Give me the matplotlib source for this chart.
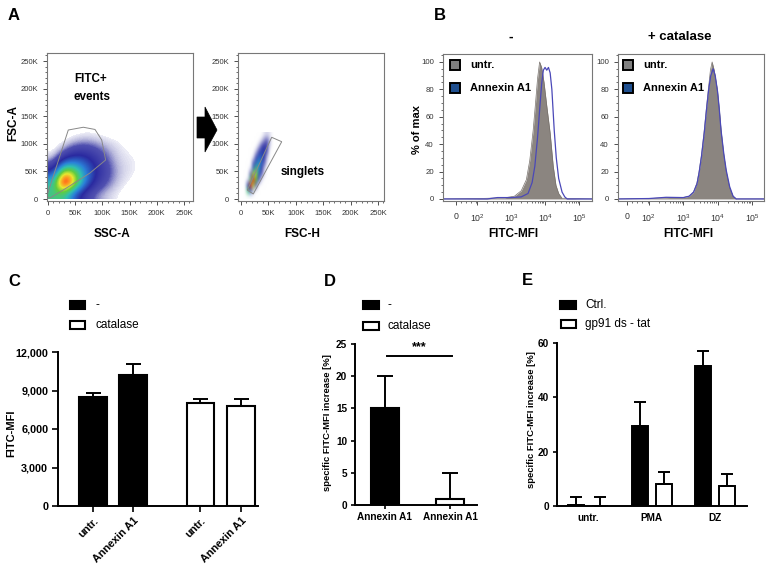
import numpy as np
import matplotlib
matplotlib.use("Agg")
import matplotlib.pyplot as plt
from matplotlib.colors import LinearSegmentedColormap
from matplotlib.patches import Rectangle, Polygon
from matplotlib.ticker import FixedLocator, MultipleLocator, FuncFormatter

plt.rcParams['font.family'] = ['Liberation Sans', 'DejaVu Sans']
plt.rcParams['mathtext.fontset'] = 'custom'
plt.rcParams['mathtext.rm'] = 'Liberation Sans'
plt.rcParams['mathtext.it'] = 'Liberation Sans:italic'
plt.rcParams['mathtext.bf'] = 'Liberation Sans:bold'

# ---------------------------------------------------------------- data
# Panel A (left): relative event density, rows = FSC-A 20K bins (0-140K), cols = SSC-A 20K bins (0-260K)
fitc_density = [
    [4.5, 4.5, 2.5, 1.3, 0.7, 0.4, 0.2, 0.1, 0.1, 0.1, 0.0, 0.0, 0.0],
    [4.0, 9.0, 6.0, 3.0, 1.6, 0.9, 0.4, 0.2, 0.15, 0.1, 0.1, 0.0, 0.0],
    [2.0, 6.0, 5.0, 3.2, 2.0, 1.1, 0.5, 0.3, 0.2, 0.15, 0.1, 0.1, 0.0],
    [0.5, 2.2, 2.8, 2.4, 1.6, 0.9, 0.4, 0.3, 0.2, 0.15, 0.1, 0.1, 0.0],
    [0.1, 0.6, 1.2, 1.3, 1.0, 0.6, 0.3, 0.2, 0.15, 0.1, 0.1, 0.0, 0.0],
    [0.0, 0.1, 0.3, 0.4, 0.3, 0.2, 0.2, 0.15, 0.1, 0.1, 0.0, 0.0, 0.0],
    [0.0, 0.0, 0.0, 0.1, 0.1, 0.1, 0.0, 0.0, 0.0, 0.0, 0.0, 0.0, 0.0],
]
fitc_range_k = [0, 260, 0, 140]
fitc_gate_ssc_k = [-2.4, 37.3, 65, 86.4, 98.7, 106, 77, 34, 3.7]
fitc_gate_fsc_k = [4.2, 125, 130, 126, 107, 70.7, 47, 20, 1.8]

# Panel A (right): rows = FSC-A 10K bins (0-120K), cols = FSC-H 5K bins (0-60K)
singlet_density = [
    [0, 0, 0, 0, 0, 0, 0, 0, 0, 0, 0, 0],
    [0, 0, 5, 3, 0.5, 0, 0, 0, 0, 0, 0, 0],
    [0, 0, 2.5, 8.5, 6, 1.2, 0.2, 0, 0, 0, 0, 0],
    [0, 0, 0.3, 5, 9, 5.5, 1.5, 0.3, 0, 0, 0, 0],
    [0, 0, 0, 1, 6, 6, 3, 1, 0.3, 0, 0, 0],
    [0, 0, 0, 0.3, 3, 5, 4, 2, 0.5, 0, 0, 0],
    [0, 0, 0, 0, 1, 3, 4, 3, 1, 0.3, 0, 0],
    [0, 0, 0, 0, 0.3, 1.5, 3, 3, 2, 0.5, 0, 0],
    [0, 0, 0, 0, 0, 0.5, 1.5, 2.5, 2.5, 1, 0.2, 0],
    [0, 0, 0, 0, 0, 0.2, 0.5, 1.2, 2, 1.2, 0.4, 0],
    [0, 0, 0, 0, 0, 0, 0.2, 0.4, 0.8, 1, 0.5, 0.2],
    [0, 0, 0, 0, 0, 0, 0, 0.1, 0.3, 0.4, 0.3, 0.2],
]
singlet_range_k = [0, 60, 0, 120]
singlet_gate_fsch_k = [11.5, 22.4, 74.3, 56.0]
singlet_gate_fsca_k = [16.3, 9.1, 103.8, 111.8]

# Panel B: histograms, x = log10(FITC) display units, y = % of max
b1_untr_t = [1.0, 2.0, 2.8, 3.1, 3.3, 3.45, 3.55, 3.65, 3.72, 3.78, 3.84, 3.9, 3.97, 4.05, 4.15, 4.24, 4.32, 4.4, 4.5, 5.38]
b1_untr_y = [0, 0.3, 0.8, 2, 6, 14, 28, 50, 70, 88, 100, 96, 85, 68, 48, 24, 10, 4, 0.5, 0]
b1_anx_t = [1.0, 2.3, 2.6, 3.0, 3.3, 3.5, 3.62, 3.7, 3.78, 3.85, 3.9, 3.95, 4.0, 4.05, 4.1, 4.15, 4.2, 4.27, 4.33, 4.4, 4.5, 4.58, 4.65, 5.38]
b1_anx_y = [0, 0, 1, 1, 1.5, 4, 12, 24, 45, 68, 84, 94, 96, 94, 96, 92, 80, 50, 30, 15, 5, 1.5, 0, 0]
b2_untr_t = [1.1, 2.0, 2.6, 3.0, 3.17, 3.3, 3.4, 3.46, 3.53, 3.61, 3.68, 3.73, 3.79, 3.84, 3.9, 3.99, 4.05, 4.1, 4.18, 4.25, 4.35, 4.45, 4.54, 5.35]
b2_untr_y = [0, 0.3, 1, 1, 2, 5, 12, 20, 32, 50, 68, 80, 94, 100, 94, 80, 65, 50, 32, 20, 8, 2, 0, 0]
b2_anx_t = [1.1, 2.0, 2.5, 3.0, 3.17, 3.3, 3.4, 3.46, 3.53, 3.61, 3.68, 3.74, 3.8, 3.87, 3.93, 4.0, 4.05, 4.1, 4.18, 4.25, 4.35, 4.45, 4.54, 5.35]
b2_anx_y = [0, 0.3, 1.2, 1, 2, 5, 11, 19, 31, 48, 66, 80, 90, 95, 90, 78, 65, 50, 33, 21, 9, 2, 0, 0]
b_tick_labels = ['0', '$10^{2}$', '$10^{3}$', '$10^{4}$', '$10^{5}$']

# Panel C
c_categories = ['untr.', 'Annexin A1']
c_ctrl_mean = [8500, 10200]
c_ctrl_err = [300, 850]
c_cat_mean = [8050, 7800]
c_cat_err = [300, 500]

# Panel D
d_categories = ['Annexin A1', 'Annexin A1']
d_mean = [15.1, 1.0]
d_err = [5.0, 4.0]

# Panel E
e_categories = ['untr.', 'PMA', 'DZ']
e_ctrl_mean = [0.5, 29.5, 51.5]
e_ctrl_err = [2.8, 8.7, 5.5]
e_gp91_mean = [0.0, 8.2, 7.2]
e_gp91_err = [3.3, 4.3, 4.4]

# ---------------------------------------------------------------- helpers
W, H = 767, 575
fig = plt.figure(figsize=(W / 100, H / 100), dpi=100)


def ax_px(x0, y0, x1, y1):
    return fig.add_axes([x0 / W, 1 - y1 / H, (x1 - x0) / W, (y1 - y0) / H])


def ftext(x, y, s, **kw):
    kw.setdefault('ha', 'center')
    kw.setdefault('va', 'center')
    fig.text(x / W, 1 - y / H, s, **kw)


def frect(x0, y0, x1, y1, fc, ec='black', lw=1.5):
    fig.add_artist(Rectangle((x0 / W, 1 - y1 / H), (x1 - x0) / W, (y1 - y0) / H,
                             transform=fig.transFigure, fc=fc, ec=ec, lw=lw))


flow_cmap = LinearSegmentedColormap.from_list('flow', [
    (0.0, '#ececf6'), (0.04, '#b8b8dc'), (0.1, '#5050b0'), (0.25, '#2a2aa0'), (0.42, '#2a80d8'),
    (0.55, '#30c0b0'), (0.68, '#60cc40'), (0.8, '#e8e830'), (0.9, '#ff9020'), (1.0, '#ff2010')])
flow_cmap.set_under('white')

# ---------------------------------------------------------------- panel letters
for lab, x, y in [('A', 14, 15), ('B', 440, 15), ('C', 14, 282), ('D', 330, 282), ('E', 527, 281)]:
    ftext(x, y, lab, fontsize=12, fontweight='bold')


# ---------------------------------------------------------------- panel A
def style_flow(ax, xlim, ylim):
    ax.set_xlim(*xlim)
    ax.set_ylim(*ylim)
    ticks = [0, 50, 100, 150, 200, 250]
    labs = ['0', '50K', '100K', '150K', '200K', '250K']
    ax.set_xticks(ticks)
    ax.set_xticklabels(labs)
    ax.set_yticks(ticks)
    ax.set_yticklabels(labs)
    ax.xaxis.set_minor_locator(MultipleLocator(10))
    ax.yaxis.set_minor_locator(MultipleLocator(10))
    ax.tick_params(which='major', length=3, width=0.6, labelsize=5.5, pad=3.5, colors='#333333')
    ax.tick_params(which='minor', length=1.6, width=0.5, colors='#333333')
    for sp in ax.spines.values():
        sp.set_color('#777777')
        sp.set_linewidth(0.8)


axA1 = ax_px(47, 53, 193, 201)
axA1.imshow(np.array(fitc_density), extent=fitc_range_k, origin='lower', cmap=flow_cmap,
            interpolation='bicubic', vmin=0.25, vmax=7.3, aspect='auto')
axA1.add_patch(Polygon(list(zip(fitc_gate_ssc_k, fitc_gate_fsc_k)), closed=True, fill=False,
                       ec='#888888', lw=0.7))
style_flow(axA1, (-1.8, 266.5), (-3.6, 264.5))

axA2 = ax_px(238, 53, 384, 201)
axA2.imshow(np.array(singlet_density), extent=singlet_range_k, origin='lower', cmap=flow_cmap,
            interpolation='bicubic', vmin=0.25, vmax=8.0, aspect='auto')
axA2.add_patch(Polygon(list(zip(singlet_gate_fsch_k, singlet_gate_fsca_k)), closed=True, fill=False,
                       ec='#888888', lw=0.7))
style_flow(axA2, (-5.5, 261), (-3.6, 264.5))

ftext(13, 123, 'FSC-A', fontsize=8.5, fontweight='bold', rotation=90)
ftext(112, 234, 'SSC-A', fontsize=8.5, fontweight='bold')
ftext(302, 234, 'FSC-H', fontsize=8.5, fontweight='bold')
ftext(74, 79, 'FITC+', fontsize=8.4, fontweight='bold', ha='left')
ftext(74, 97, 'events', fontsize=8.4, fontweight='bold', ha='left')
ftext(281, 172, 'singlets', fontsize=8.4, fontweight='bold', ha='left')

arrow_px = [(197, 117), (205, 117), (205, 107), (217, 130), (205, 152), (205, 138), (197, 138)]
fig.add_artist(Polygon([(x / W, 1 - y / H) for x, y in arrow_px], closed=True,
                       transform=fig.transFigure, fc='black', ec='black', lw=0.5))


# ---------------------------------------------------------------- panel B
def hist_panel(ax, tu, yu, ta, ya, tzero, xlim):
    ax.fill_between(tu, yu, color='#8b8580', lw=0)
    ax.plot(tu, yu, color='#77716c', lw=0.5)
    ax.plot(ta, ya, color='#4a48b8', lw=0.9)
    ax.set_xlim(*xlim)
    ax.set_ylim(-1.5, 105.8)
    ax.set_xticks([tzero, 2, 3, 4, 5])
    ax.set_xticklabels(b_tick_labels)
    minors = [tzero + 0.15 * k for k in range(1, 5)]
    for d in range(2, 5):
        minors += [d + np.log10(m) for m in range(2, 10)]
    ax.xaxis.set_minor_locator(FixedLocator(minors))
    ax.set_yticks([0, 20, 40, 60, 80, 100])
    ax.yaxis.set_minor_locator(MultipleLocator(5))
    ax.tick_params(which='major', length=3, width=0.6, labelsize=5.6, pad=3.5, colors='#333333')
    ax.tick_params(axis='x', which='major', labelsize=6.3, pad=5)
    ax.tick_params(which='minor', length=1.6, width=0.5, colors='#333333')
    for sp in ax.spines.values():
        sp.set_color('#777777')
        sp.set_linewidth(0.8)


axB1 = ax_px(443, 54, 592, 201)
hist_panel(axB1, b1_untr_t, b1_untr_y, b1_anx_t, b1_anx_y, 1.38, (1.0, 5.38))
axB2 = ax_px(618, 54, 764, 201)
hist_panel(axB2, b2_untr_t, b2_untr_y, b2_anx_t, b2_anx_y, 1.36, (1.1, 5.35))

ftext(417, 130, '% of max', fontsize=8, fontweight='bold', rotation=90)
ftext(513, 234, 'FITC-MFI', fontsize=8.5, fontweight='bold')
ftext(688, 234, 'FITC-MFI', fontsize=8.5, fontweight='bold')
ftext(511, 37, '-', fontsize=10, fontweight='bold')
ftext(680, 37, '+ catalase', fontsize=9.5, fontweight='bold')
for x0 in (450, 623):
    frect(x0, 60, x0 + 10, 70, '#808080', lw=1.4)
    frect(x0, 83, x0 + 10, 93, '#1f4f8f', lw=1.4)
    ftext(x0 + 20, 65, 'untr.', fontsize=8, fontweight='bold', ha='left')
    ftext(x0 + 20, 88, 'Annexin A1', fontsize=8, fontweight='bold', ha='left')


# ---------------------------------------------------------------- bar panels
def style_bar(ax, tick_size):
    for s in ('top', 'right'):
        ax.spines[s].set_visible(False)
    for s in ('left', 'bottom'):
        ax.spines[s].set_linewidth(1.4)
    ax.tick_params(width=1.2, length=3, pad=2.5, labelsize=tick_size)
    for lab in ax.get_yticklabels() + ax.get_xticklabels():
        lab.set_fontweight('bold')


# Panel C
axC = ax_px(58, 352, 258, 506)
pos_ctrl = [0.0, 1.0]
pos_cat = [2.68, 3.7]
bw = 0.68
axC.bar(pos_ctrl, c_ctrl_mean, bw, color='black', ec='black', lw=1.5, zorder=2)
axC.bar(pos_cat, c_cat_mean, bw, color='white', ec='black', lw=1.5, zorder=2)
axC.errorbar(pos_ctrl, c_ctrl_mean, yerr=[[0, 0], c_ctrl_err], fmt='none', ecolor='black',
             elinewidth=1.4, capsize=5.4, capthick=1.4, zorder=3)
axC.errorbar(pos_cat, c_cat_mean, yerr=[[0, 0], c_cat_err], fmt='none', ecolor='black',
             elinewidth=1.4, capsize=5.4, capthick=1.4, zorder=3)
axC.set_xlim(-0.875, 4.125)
axC.set_ylim(0, 12000)
axC.set_yticks([0, 3000, 6000, 9000, 12000])
axC.yaxis.set_major_formatter(FuncFormatter(lambda v, p: f'{int(v):,}'))
axC.set_xticks(pos_ctrl + pos_cat)
axC.set_xticklabels(c_categories + c_categories, rotation=45, ha='right', va='top',
                    rotation_mode='anchor')
style_bar(axC, 7.8)
axC.tick_params(axis='y', length=4, pad=3)
axC.tick_params(axis='x', length=4, pad=3)
ftext(11, 433, 'FITC-MFI', fontsize=8, fontweight='bold', rotation=90)
frect(70, 301, 85, 309, 'black')
frect(70, 321, 85, 329, 'white')
ftext(95, 305, '-', fontsize=8.5, ha='left')
ftext(95, 325, 'catalase', fontsize=8.5, ha='left')

# Panel D
axD = ax_px(355, 344, 477, 505)
axD.bar([0], d_mean[:1], 0.42, color='black', ec='black', lw=1.5, zorder=2)
axD.bar([1], d_mean[1:], 0.42, color='white', ec='black', lw=1.5, zorder=2)
axD.errorbar([0, 1], d_mean, yerr=[[0, 0], d_err], fmt='none', ecolor='black',
             elinewidth=1.4, capsize=6, capthick=1.4, zorder=3)
axD.plot([0.03, 1.03], [23.1, 23.1], color='black', lw=1.4)
axD.text(0.53, 23.6, '***', ha='center', va='bottom', fontsize=9, fontweight='bold')
axD.set_xlim(-0.46, 1.415)
axD.set_ylim(0, 25)
axD.set_yticks([0, 5, 10, 15, 20, 25])
axD.set_xticks([0, 1])
axD.set_xticklabels(d_categories)
style_bar(axD, 7.2)
axD.tick_params(axis='x', length=3, pad=2)
ftext(328, 423, 'specific FITC-MFI increase [%]', fontsize=6.8, fontweight='bold', rotation=90)
frect(363, 301, 379, 309, 'black')
frect(363, 322, 379, 330, 'white')
ftext(388, 305, '-', fontsize=8.5, ha='left')
ftext(388, 326, 'catalase', fontsize=8.5, ha='left')

# Panel E
axE = ax_px(557, 343, 747, 506)
xe = np.arange(len(e_categories))
off, ew = 0.19, 0.25
axE.bar(xe - off, e_ctrl_mean, ew, color='black', ec='black', lw=1.4, zorder=2)
axE.bar(xe + off, e_gp91_mean, ew, color='white', ec='black', lw=1.4, zorder=2)
axE.errorbar(xe - off, e_ctrl_mean, yerr=[[0] * 3, e_ctrl_err], fmt='none', ecolor='black',
             elinewidth=1.4, capsize=4.3, capthick=1.4, zorder=3)
axE.errorbar(xe + off, e_gp91_mean, yerr=[[0] * 3, e_gp91_err], fmt='none', ecolor='black',
             elinewidth=1.4, capsize=4.3, capthick=1.4, zorder=3)
axE.set_xlim(-0.49, 2.5)
axE.set_ylim(0, 60)
axE.set_yticks([0, 20, 40, 60])
axE.set_xticks(xe)
axE.set_xticklabels(e_categories)
style_bar(axE, 7.2)
axE.tick_params(axis='x', length=0, pad=5)
ftext(531, 420, 'specific FITC-MFI increase [%]', fontsize=6.8, fontweight='bold', rotation=90)
frect(560, 301, 576, 309, 'black')
frect(561, 320, 576, 328, 'white')
ftext(585, 305, 'Ctrl.', fontsize=8.5, ha='left')
ftext(585, 324, 'gp91 ds - tat', fontsize=8.5, ha='left')

fig.savefig('out.png', dpi=100)
